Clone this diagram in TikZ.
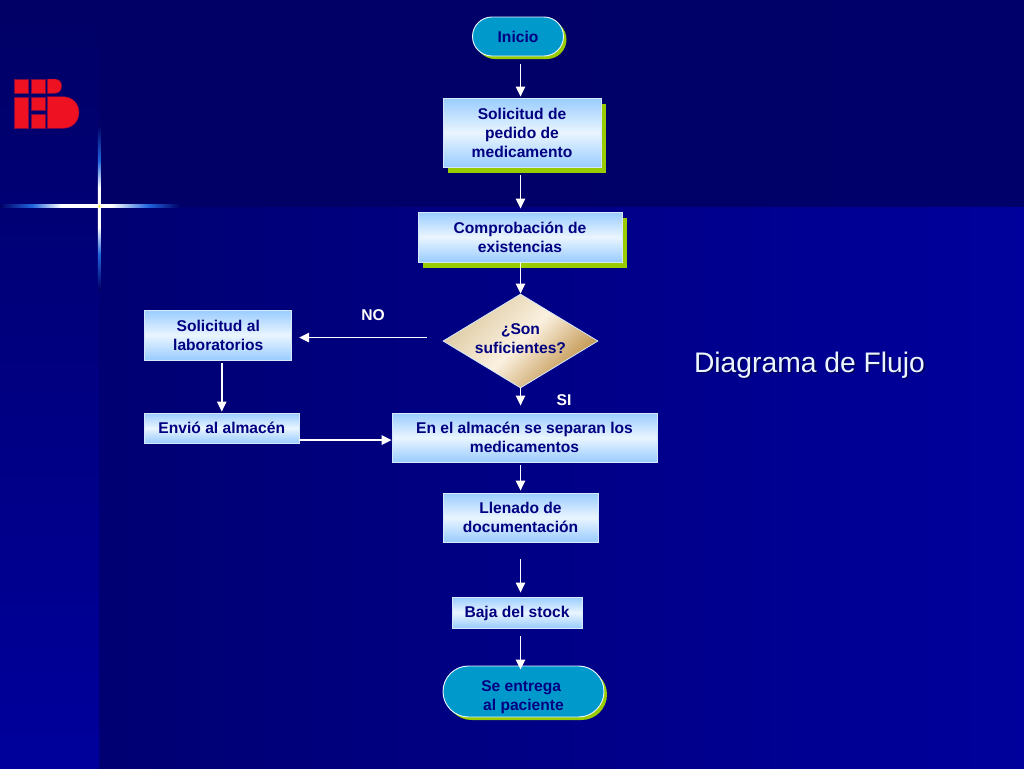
\documentclass[tikz,border=0pt]{standalone}
\usepackage{fontspec}
\setmainfont{Liberation Sans}
\usetikzlibrary{arrows.meta,shadows,shapes.geometric,shapes.misc}
\definecolor{fondo}{HTML}{000066}
\definecolor{fondomedio}{HTML}{000072}
\definecolor{fondoclaro}{HTML}{00009C}
\definecolor{texto}{HTML}{000080}
\definecolor{celeste}{HTML}{99CCFF}
\definecolor{palido}{HTML}{EAF5FF}
\definecolor{borde}{HTML}{D5E8FA}
\definecolor{turquesa}{HTML}{0099CC}
\definecolor{sombra}{HTML}{99CC00}
\definecolor{rojo}{HTML}{EE1122}
\definecolor{brillo}{HTML}{2266DD}
\definecolor{arena}{HTML}{DCC9A0}
\definecolor{crema}{HTML}{FBF1E0}
\definecolor{oro}{HTML}{BC8C40}
\pgfdeclarehorizontalshading{destelloh}{100bp}{color(0bp)=(fondo); color(25bp)=(fondo); color(34bp)=(brillo); color(42bp)=(white); color(50bp)=(white); color(56bp)=(white); color(66bp)=(brillo); color(75bp)=(fondo); color(100bp)=(fondo)}
\pgfdeclareverticalshading{destellov}{100bp}{color(0bp)=(fondo); color(25bp)=(fondo); color(36bp)=(brillo); color(44bp)=(white); color(50bp)=(white); color(56bp)=(white); color(64bp)=(brillo); color(75bp)=(fondo); color(100bp)=(fondo)}
\tikzset{
  every node/.style={font=\bfseries\fontsize{11.7}{14.25}\selectfont, text=texto, align=center, inner sep=0pt},
  proceso/.style={rectangle, draw=borde, line width=0.6pt, top color=celeste, bottom color=celeste, middle color=palido},
  conSombra/.style={general shadow={fill=sombra, shadow xshift=3.75pt, shadow yshift=-4.5pt}},
  terminal/.style={rounded rectangle, draw=palido, line width=0.7pt, fill=turquesa, general shadow={fill=sombra, shadow xshift=2.25pt, shadow yshift=-2.25pt}},
  decision/.style={diamond, draw=borde, line width=0.6pt, top color=arena, bottom color=oro, middle color=crema, shading angle=45},
  rama/.style={text=white},
  flecha/.style={draw=white, line width=1.3pt, -{Triangle[length=7.5pt,width=7pt]}}
}
\begin{document}
\begin{tikzpicture}[x=0.75pt,y=-0.75pt]
  \useasboundingbox (0,0) rectangle (1024,768);
  \fill[left color=fondo, right color=fondo!92!fondoclaro] (0,0) rectangle (1024,207);
  \fill[left color=fondomedio, right color=fondoclaro] (99,207) rectangle (1024,768);
  \fill[top color=fondo, bottom color=fondoclaro] (0,0) rectangle (99,768);
  \fill[shading=destelloh] (0,204.8) rectangle (180,207.8);
  \fill[shading=destellov] (97.8,125) rectangle (100.6,290);
  \fill[yellow!70!white] (99.2,206.3) circle (1.5);
  \begin{scope}[fill=rojo, draw=rojo!55!fondo, line width=0.3pt]
    \filldraw (14,79) rectangle (28.3,93.3);
    \filldraw (30.7,79) rectangle (45,93.3);
    \filldraw (47.3,79) -- (54.5,79) .. controls (59,79) and (61.7,82) .. (61.7,86) .. controls (61.7,90.3) and (59,93.3) .. (54.5,93.3) -- (47.3,93.3) -- cycle;
    \filldraw (14,96.7) rectangle (28.3,128.3);
    \filldraw (30.7,96.7) rectangle (45,110);
    \filldraw (30.7,114) rectangle (45,128.3);
    \filldraw (47.3,96.7) -- (63,96.7) .. controls (73,96.7) and (79,104) .. (79,112.5) .. controls (79,121) and (73,128.3) .. (63,128.3) -- (47.3,128.3) -- cycle;
  \end{scope}
  \coordinate (eje) at (520.5,0);
  \node[terminal, minimum width=68.25pt, minimum height=29.25pt] (inicio) at (518,36.5) {Inicio};
  \node[proceso, conSombra, minimum width=118.5pt, minimum height=51.75pt] (pedido) at (522,132.5) {Solicitud de\\pedido de\\medicamento};
  \node[proceso, conSombra, minimum width=153pt, minimum height=37.5pt] (existencias) at (520,237) {Comprobación de\\existencias};
  \node[decision, minimum width=116.25pt, minimum height=70.5pt, label={[yshift=1.5pt]center:{¿Son\\suficientes?}}] (suficientes) at (520.5,341) {};
  \node[proceso, minimum width=110.25pt, minimum height=37.5pt] (laboratorios) at (218.25,335) {Solicitud al\\laboratorios};
  \node[proceso, minimum width=116.25pt, minimum height=22.5pt] (envio) at (221.75,428) {Envió al almacén};
  \node[proceso, minimum width=198.75pt, minimum height=36.75pt] (almacen) at (524.5,437.5) {En el almacén se separan los\\medicamentos};
  \node[proceso, minimum width=116.25pt, minimum height=36.75pt] (llenado) at (520.5,517.5) {Llenado de\\documentación};
  \node[proceso, text depth=1pt, minimum width=97.5pt, minimum height=23.25pt] (baja) at (517,612.5) {Baja del stock};
  \node[terminal, minimum width=120.75pt, minimum height=38.25pt] (entrega) at (523.5,691.5) {\rule{0pt}{16.5pt}Se entrega\hspace*{3.5pt}\\ al paciente};
  \node[rama] (no) at (373,315) {NO};
  \node[rama] (si) at (564,400) {SI};
  \node[font=\fontsize{21.2}{25}\selectfont, text=fondo!80!black] (tituloSombra) at (811,366) {Diagrama de Flujo};
  \node[font=\fontsize{21.2}{25}\selectfont, text=palido] (titulo) at (809.5,365) {Diagrama de Flujo};
  \begin{scope}[flecha]
    \draw[shorten <=6pt, shorten >=0.75pt] (inicio.south -| eje) to (pedido.north -| eje);
    \draw[shorten <=6pt, shorten >=2.25pt] (pedido.south -| eje) to (existencias.north -| eje);
    \draw (existencias.south -| eje) to (suficientes.north);
    \draw[shorten >=5.25pt] (suficientes.south) to (almacen.north -| eje);
    \draw[shorten <=12pt, shorten >=5.25pt] ([yshift=2.6pt]suficientes.west) to ([yshift=-1.9pt]laboratorios.east);
    \draw[shorten <=2.25pt, shorten >=0.75pt] (laboratorios.south -| envio) to (envio.north);
    \draw ([yshift=-9pt]envio.east) to ([yshift=-1.9pt]almacen.west);
    \draw[shorten <=2.25pt, shorten >=1.5pt] (almacen.south -| eje) to (llenado.north -| eje);
    \draw[shorten <=12.75pt, shorten >=3pt] (llenado.south -| eje) to (baja.north -| eje);
    \draw[shorten <=6pt, shorten >=-3pt] (baja.south -| eje) to (entrega.north -| eje);
  \end{scope}
\end{tikzpicture}
\end{document}
